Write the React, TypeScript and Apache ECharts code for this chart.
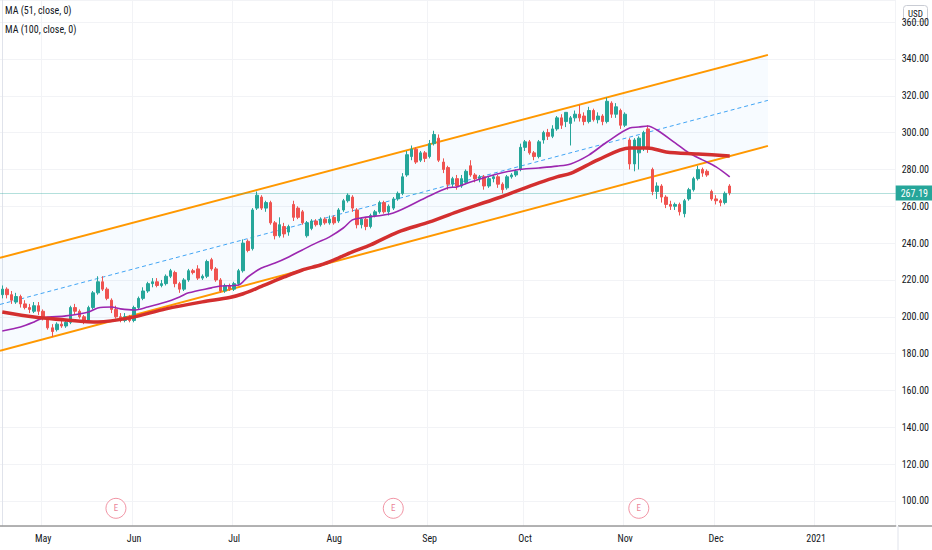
import React, { useEffect, useRef } from "react";
import * as echarts from "echarts";

// ---- categories: trading days from 2020-04-20 (US market holidays skipped) ----
const START_DATE = "2020-04-20";
const CATEGORY_COUNT = 197;
const HOLIDAYS = ["2020-05-25", "2020-07-03", "2020-09-07", "2020-11-26", "2020-12-25", "2021-01-01", "2021-01-18"];
const MONTH_NAMES = ["Jan", "Feb", "Mar", "Apr", "May", "Jun", "Jul", "Aug", "Sep", "Oct", "Nov", "Dec"];

// ---- candles (one entry per trading day) ----
const opens = [
  212, 215, 212, 208, 211, 207, 205, 203, 206, 203, 199, 194, 193, 196, 195, 197, 205, 203, 200, 198,
  205, 213, 219, 215, 209, 204, 200, 198, 200, 198, 205, 210, 214, 218, 219, 217, 218, 222, 224, 218,
  215, 220, 225, 226, 221, 222, 231, 226, 220, 214, 217, 215, 218, 225, 241, 237, 259, 265, 259, 262,
  251, 244, 249, 246, 261, 259, 257, 244, 248, 252, 250, 253, 251, 254, 252, 258, 263, 265, 258, 250,
  253, 249, 255, 257, 262, 257, 259, 264, 267, 277, 287, 291, 285, 289, 287, 294, 297, 284, 281, 272,
  275, 271, 273, 282, 277, 275, 276, 271, 275, 276, 272, 270, 276, 277, 280, 292, 295, 289, 287, 296,
  300, 298, 302, 308, 306, 305, 308, 310, 309, 306, 312, 307, 309, 306, 316, 310, 312, 304, 296, 283,
  289, 292, 302, 280, 268, 271, 265, 261, 260, 261, 256, 264, 269, 275, 280, 279, 268, 264, 263, 262,
  271,
];
const closes = [
  215, 212, 209, 211, 207, 205, 204, 206, 203, 200, 194, 192, 196, 195, 197, 205, 203, 200, 198, 205,
  213, 219, 215, 210, 204, 200, 198, 200, 198, 205, 210, 214, 218, 219, 217, 218, 222, 225, 218, 215,
  220, 225, 224, 221, 222, 230, 226, 220, 214, 217, 215, 218, 225, 240, 236, 258, 266, 259, 262, 251,
  244, 250, 245, 249, 254, 254, 251, 251, 252, 250, 253, 251, 253, 251, 258, 263, 266, 259, 250, 253,
  249, 255, 257, 262, 257, 260, 264, 267, 276, 288, 291, 284, 289, 286, 294, 299, 285, 280, 272, 275,
  271, 275, 279, 277, 275, 276, 271, 275, 276, 272, 269, 276, 277, 279, 292, 295, 289, 287, 295, 300,
  298, 302, 308, 304, 311, 308, 310, 308, 306, 312, 307, 309, 306, 317, 310, 314, 304, 310, 283, 296,
  297, 300, 291, 268, 271, 265, 261, 260, 261, 257, 263, 269, 275, 280, 278, 277, 264, 263, 262, 267,
  267.19,
];
const lows = [
  210, 210, 207, 207, 205, 204, 202, 202, 201, 198, 193, 189, 192, 194, 194, 196, 201, 199, 196, 197,
  204, 212, 214, 209, 202, 199, 197, 197, 197, 197, 204, 209, 213, 216, 216, 216, 217, 221, 216, 213,
  214, 219, 223, 220, 220, 221, 225, 219, 213, 213, 214, 214, 217, 224, 235, 236, 258, 258, 257, 250,
  242, 243, 243, 244, 252, 253, 250, 243, 247, 249, 249, 250, 250, 250, 251, 257, 262, 257, 248, 248,
  247, 248, 254, 256, 256, 255, 258, 263, 266, 276, 285, 283, 284, 284, 286, 293, 284, 278, 269, 270,
  269, 270, 272, 276, 273, 273, 269, 270, 273, 270, 267, 269, 275, 276, 279, 290, 288, 285, 286, 294,
  296, 297, 301, 302, 303, 293, 306, 306, 304, 305, 306, 305, 304, 305, 308, 308, 302, 303, 280, 279,
  280, 290, 289, 266, 264, 262, 259, 258, 258, 255, 254, 263, 268, 274, 276, 276, 263, 261, 260, 261,
  266,
];
const highs = [
  217, 216, 214, 213, 212, 209, 207, 208, 208, 204, 200, 196, 197, 198, 198, 206, 207, 204, 201, 206,
  214, 222, 222, 216, 210, 206, 202, 202, 201, 206, 211, 216, 219, 221, 221, 220, 223, 226, 225, 219,
  221, 226, 226, 228, 223, 231, 232, 227, 221, 218, 218, 219, 226, 242, 242, 259, 268, 266, 263, 263,
  252, 254, 251, 250, 263, 260, 258, 252, 253, 253, 254, 254, 255, 255, 259, 264, 267, 266, 259, 254,
  254, 256, 258, 263, 263, 261, 265, 268, 278, 290, 293, 292, 290, 290, 296, 301, 299, 286, 282, 276,
  277, 277, 280, 285, 278, 277, 277, 276, 277, 277, 273, 277, 278, 280, 294, 296, 296, 290, 296, 301,
  302, 304, 309, 310, 311, 309, 312, 315, 311, 314, 313, 311, 310, 319, 317, 316, 313, 311, 297, 297,
  298, 301, 304, 281, 273, 272, 266, 263, 262, 262, 264, 270, 276, 282, 281, 280, 269, 266, 264, 268,
  272,
];
const LAST_PRICE = 267.19;

// ---- moving averages (bar index, value) ----
const ma51Index = [0, 4, 7, 9, 14, 19, 21, 24, 26, 29, 32, 36, 39, 41, 46, 48, 52, 54, 57, 60, 63, 66, 69, 72, 75, 77, 79, 86, 93, 98, 100, 103, 108, 113, 118, 122, 125, 129, 133, 138, 140, 142, 144, 148, 151, 154, 157, 160];
const ma51Value = [192.3, 194.5, 197.2, 199.4, 200.5, 202.6, 204.8, 205.3, 204.3, 203.7, 205.3, 208, 210.8, 213, 215.7, 216.7, 217.3, 221.6, 226.5, 229.2, 232.5, 236.3, 240, 243.4, 248.2, 252.6, 253.7, 256.4, 264.5, 270, 270.5, 273.2, 277, 279.7, 280.8, 281.8, 283, 287.8, 294.9, 302.5, 303, 303.6, 301.4, 294.4, 289, 285.2, 281.4, 276];
const ma100Index = [0, 7, 14, 21, 28, 36, 44, 50, 53, 57, 62, 66, 70, 73, 77, 81, 87, 94, 100, 109, 118, 122, 125, 131, 138, 142, 146, 153, 160];
const ma100Value = [202.6, 199.9, 198.3, 197.2, 199.4, 204.3, 208.1, 210.5, 212.5, 216.5, 221.6, 225.4, 228.1, 230.9, 235.2, 239, 246, 251.5, 257, 264.5, 272.7, 276, 277.8, 285.2, 291.7, 291.7, 289.5, 288.4, 287.3];

// ---- parallel channel (start/end bar position, prices) ----
const channelX = [-0.5, 168.4];
const channelUpper = [232, 342.2];
const channelMiddle = [206.7, 317.5];
const channelLower = [181.5, 292.8];

// ---- earnings events (bar index) ----
const earningsIndex = [25, 86, 140];
const EARNINGS_LEVEL = 96;

// ---- price axis ----
const PRICE_MIN = 86.4;
const PRICE_MAX = 372;

const LEGEND_LINES = ["MA (51, close, 0)", "MA (100, close, 0)"];

const FONT = '"Liberation Sans Narrow", "Roboto Condensed", "DejaVu Sans Condensed", "Liberation Sans", sans-serif';

function buildDates(start: string, count: number): string[] {
  const out: string[] = [];
  const d = new Date(start + "T12:00:00Z");
  while (out.length < count) {
    const iso = d.toISOString().slice(0, 10);
    const wd = d.getUTCDay();
    if (wd !== 0 && wd !== 6 && HOLIDAYS.indexOf(iso) < 0) out.push(iso);
    d.setUTCDate(d.getUTCDate() + 1);
  }
  return out;
}

export default function App() {
  const ref = useRef<HTMLDivElement>(null);

  useEffect(() => {
    if (!ref.current) return;
    const chart = echarts.init(ref.current, undefined, { renderer: "svg" });
    const dates = buildDates(START_DATE, CATEGORY_COUNT);
    const isMonthStart = (i: number) => i > 0 && dates[i].slice(5, 7) !== dates[i - 1].slice(5, 7);
    const candleData = opens.map((o, i) => [o, closes[i], lows[i], highs[i]]);
    const pairs = (xs: number[], ys: number[]) => xs.map((x, i) => [x, ys[i]]);

    const option: any = {
      animation: false,
      backgroundColor: "#ffffff",
      textStyle: { fontFamily: FONT },
      grid: { left: 0, right: 34, top: 0, bottom: 24, containLabel: false },
      xAxis: [
        {
          type: "category",
          data: dates,
          boundaryGap: true,
          axisLine: { show: true, lineStyle: { color: "#9a9a9a", width: 1.5 } },
          axisTick: { show: false },
          axisLabel: {
            interval: (i: number) => isMonthStart(i),
            formatter: (v: string) => {
              const m = parseInt(v.slice(5, 7), 10) - 1;
              return m === 0 ? v.slice(0, 4) : MONTH_NAMES[m];
            },
            color: "#131722",
            fontSize: 10,
            fontFamily: FONT,
            margin: 7,
          },
          splitLine: { show: true, interval: (i: number) => isMonthStart(i), lineStyle: { color: "#f2f3f6", width: 1 } },
        },
        { type: "value", min: -0.5, max: CATEGORY_COUNT - 0.5, show: false },
      ],
      yAxis: {
        type: "value",
        position: "right",
        min: PRICE_MIN,
        max: PRICE_MAX,
        splitNumber: 14,
        minInterval: 20,
        maxInterval: 20,
        axisLine: { show: true, lineStyle: { color: "#e0e3eb" } },
        axisTick: { show: false },
        axisLabel: {
          showMinLabel: false,
          showMaxLabel: false,
          formatter: (v: number) => v.toFixed(2),
          color: "#131722",
          fontSize: 10,
          fontFamily: FONT,
          margin: 6,
        },
        splitLine: { show: true, lineStyle: { color: "#f2f3f6", width: 1 } },
      },
      series: [
        {
          type: "custom",
          xAxisIndex: 1,
          yAxisIndex: 0,
          silent: true,
          z: 1,
          data: [[channelX[0], channelUpper[0], channelLower[0], channelX[1], channelUpper[1], channelLower[1]]],
          encode: { x: [0, 3], y: [1, 2, 4, 5] },
          renderItem: (params: any, api: any) => {
            const pts = [
              api.coord([api.value(0), api.value(1)]),
              api.coord([api.value(3), api.value(4)]),
              api.coord([api.value(3), api.value(5)]),
              api.coord([api.value(0), api.value(2)]),
            ];
            return { type: "polygon", shape: { points: pts }, style: { fill: "rgba(33,150,243,0.035)" } };
          },
        },
        {
          type: "line",
          xAxisIndex: 1,
          data: pairs(channelX, channelMiddle),
          symbol: "none",
          silent: true,
          z: 2,
          lineStyle: { color: "#42a5f5", width: 1, type: [4, 3] },
        },
        {
          type: "line",
          xAxisIndex: 1,
          data: pairs(channelX, channelUpper),
          symbol: "none",
          silent: true,
          z: 3,
          lineStyle: { color: "#ff9800", width: 2 },
        },
        {
          type: "line",
          xAxisIndex: 1,
          data: pairs(channelX, channelLower),
          symbol: "none",
          silent: true,
          z: 3,
          lineStyle: { color: "#ff9800", width: 2 },
        },
        {
          type: "candlestick",
          xAxisIndex: 0,
          data: candleData,
          barWidth: 3,
          z: 4,
          itemStyle: {
            color: "#26a69a",
            color0: "#ef5350",
            borderColor: "#26a69a",
            borderColor0: "#ef5350",
            borderWidth: 1,
          },
          markLine: {
            silent: true,
            symbol: ["none", "none"],
            data: [{ yAxis: LAST_PRICE }],
            lineStyle: { color: "rgba(38,166,154,0.35)", width: 1, type: "solid" },
            label: {
              show: true,
              position: "end",
              distance: 0,
              formatter: () => LAST_PRICE.toFixed(2),
              backgroundColor: "#26a69a",
              color: "#ffffff",
              fontSize: 10,
              fontFamily: FONT,
              padding: [3, 5, 2, 5],
            },
          },
        },
        {
          type: "line",
          xAxisIndex: 1,
          data: pairs(ma51Index, ma51Value),
          symbol: "none",
          smooth: 0.3,
          silent: true,
          z: 5,
          lineStyle: { color: "#9c27b0", width: 1.6 },
        },
        {
          type: "line",
          xAxisIndex: 1,
          data: pairs(ma100Index, ma100Value),
          symbol: "none",
          smooth: 0.3,
          silent: true,
          z: 6,
          lineStyle: { color: "#d32f2f", width: 3.5 },
        },
        {
          type: "scatter",
          xAxisIndex: 0,
          data: earningsIndex.map((i) => [i, EARNINGS_LEVEL]),
          symbol: "circle",
          symbolSize: 20,
          silent: true,
          z: 7,
          itemStyle: { color: "#ffffff", borderColor: "#ee7a8e", borderWidth: 1 },
          label: {
            show: true,
            position: "inside",
            formatter: "E",
            color: "#e5607a",
            fontSize: 9,
            fontFamily: FONT,
          },
        },
      ],
      graphic: [
        ...LEGEND_LINES.map((t, i) => ({
          type: "text",
          left: 5,
          top: 5 + i * 19,
          z: 100,
          style: { text: t, fill: "#131722", font: `10px ${FONT}` },
        })),
        {
          type: "group",
          left: 903,
          top: 5,
          z: 100,
          children: [
            { type: "rect", shape: { x: 0, y: 0, width: 24, height: 16, r: 3 }, style: { fill: "#ffffff", stroke: "#c9ccd4", lineWidth: 1 } },
            { type: "text", style: { text: "USD", x: 12, y: 8, fill: "#131722", font: `9px ${FONT}`, align: "center", verticalAlign: "middle" } },
          ],
        },
        { type: "line", z: 100, shape: { x1: 898, y1: 526, x2: 932, y2: 526 }, style: { stroke: "#9a9a9a", lineWidth: 1.5 } },
        { type: "line", z: 100, shape: { x1: 898, y1: 526, x2: 898, y2: 550 }, style: { stroke: "#e0e3eb", lineWidth: 1 } },
      ],
    };

    chart.setOption(option);
    return () => chart.dispose();
  }, []);

  return <div ref={ref} style={{ position: "absolute", left: 0, top: 0, width: 932, height: 550 }} />;
}
